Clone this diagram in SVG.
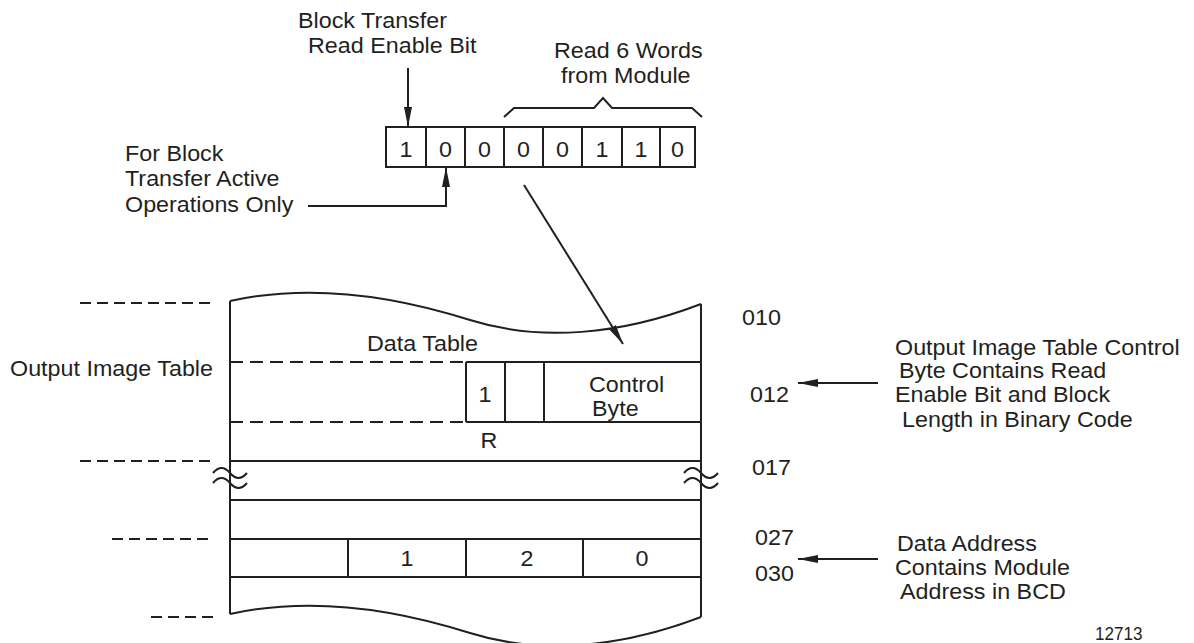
<svg xmlns="http://www.w3.org/2000/svg" width="1194" height="643" viewBox="0 0 1194 643">
<style>
.t{font-family:"Liberation Sans",Arial,sans-serif;font-size:22px;fill:#231f20}
.m{text-anchor:middle}
.s{fill:none;stroke:#231f20;stroke-width:2}
.d1{stroke-dasharray:11 6}
.d2{stroke-dasharray:13 7}
.ah{fill:#231f20;stroke:none}
</style>
<defs>
<marker id="arr" viewBox="0 0 20 10" refX="20" refY="5" markerWidth="20" markerHeight="10" markerUnits="userSpaceOnUse" orient="auto">
<path d="M0,1 L20,5 L0,9 Z" class="ah"/>
</marker>
<path id="tl" d="M-17,0 q8.5,-10 17,0 t17,0" />
</defs>
<rect width="1194" height="643" fill="#fff"/>

<g id="bit-register">
<rect x="386" y="127" width="309" height="40" class="s"/>
<path class="s" d="M426,127V167M465,127V167M504,127V167M543,127V167M582,127V167M622,127V167M660,127V167"/>
<text class="t m" transform="translate(406 157) scale(1.06 1)">1</text>
<text class="t m" transform="translate(445.5 157) scale(1.06 1)">0</text>
<text class="t m" transform="translate(484.5 157) scale(1.06 1)">0</text>
<text class="t m" transform="translate(523.5 157) scale(1.06 1)">0</text>
<text class="t m" transform="translate(562.5 157) scale(1.06 1)">0</text>
<text class="t m" transform="translate(602 157) scale(1.06 1)">1</text>
<text class="t m" transform="translate(641 157) scale(1.06 1)">1</text>
<text class="t m" transform="translate(677.5 157) scale(1.06 1)">0</text>
</g>

<g id="brace">
<path class="s" d="M504,117 L514,108 L594,108 L603,98 L612,108 L692,108 L702,117"/>
<text class="t" transform="translate(554 58) scale(1.06 1)">Read 6 Words</text>
<text class="t" transform="translate(561 83) scale(1.06 1)">from Module</text>
</g>

<g id="enable-label">
<text class="t" transform="translate(298 28) scale(1.06 1)">Block Transfer</text>
<text class="t" transform="translate(308 53) scale(1.06 1)">Read Enable Bit</text>
</g>

<g id="active-label">
<text class="t" transform="translate(125 161) scale(1.06 1)">For Block</text>
<text class="t" transform="translate(125 186) scale(1.06 1)">Transfer Active</text>
<text class="t" transform="translate(125 212) scale(1.06 1)">Operations Only</text>
</g>

<g id="data-table">
<path class="s" d="M230,301 C280,290 360,285 470,320 C540,342 620,335 701,304"/>
<path class="s" d="M230,614 C280,603 360,598 470,633 C540,655 620,648 701,617"/>
<path class="s" d="M230,301V614M701,304V617"/>
<path class="s d2" d="M230,362H463M230,422H463"/>
<path class="s" d="M466,362H701M466,422H701M230,461H701M230,500H701M230,539H701M230,577H701"/>
<path class="s" d="M466,362V422M505,362V422M544,362V422M348,539V577M466,539V577M583,539V577"/>
<g transform="translate(230 473)"><use href="#tl" class="s"/><use href="#tl" class="s" y="10"/></g>
<g transform="translate(701 473)"><use href="#tl" class="s"/><use href="#tl" class="s" y="10"/></g>
<text class="t" transform="translate(367 351) scale(1.06 1)">Data Table</text>
<text class="t m" transform="translate(485 402) scale(1.06 1)">1</text>
<text class="t" transform="translate(589 392) scale(1.06 1)">Control</text>
<text class="t" transform="translate(592 416) scale(1.06 1)">Byte</text>
<text class="t m" transform="translate(489 448) scale(1.06 1)">R</text>
<text class="t m" transform="translate(407 566) scale(1.06 1)">1</text>
<text class="t m" transform="translate(527 566) scale(1.06 1)">2</text>
<text class="t m" transform="translate(642 566) scale(1.06 1)">0</text>
</g>

<g id="left-labels">
<path class="s d1" d="M80,303H212M80,461H212M112,539H212M151,617H213"/>
<text class="t" transform="translate(10 376) scale(1.06 1)">Output Image Table</text>
</g>

<g id="addresses">
<text class="t" transform="translate(742 325) scale(1.06 1)">010</text>
<text class="t" transform="translate(750 402) scale(1.06 1)">012</text>
<text class="t" transform="translate(752 475) scale(1.06 1)">017</text>
<text class="t" transform="translate(755 545) scale(1.06 1)">027</text>
<text class="t" transform="translate(755 581) scale(1.06 1)">030</text>
</g>

<g id="control-note">
<text class="t" transform="translate(895 355) scale(1.06 1)">Output Image Table Control</text>
<text class="t" transform="translate(899 378) scale(1.06 1)">Byte Contains Read</text>
<text class="t" transform="translate(895 402) scale(1.06 1)">Enable Bit and Block</text>
<text class="t" transform="translate(902 427) scale(1.06 1)">Length in Binary Code</text>
</g>

<g id="address-note">
<text class="t" transform="translate(897 551) scale(1.06 1)">Data Address</text>
<text class="t" transform="translate(895 575) scale(1.06 1)">Contains Module</text>
<text class="t" transform="translate(900 599) scale(1.06 1)">Address in BCD</text>
</g>

<g id="figure-number">
<text class="t" style="font-size:19px" transform="translate(1095 640) scale(0.9 1)">12713</text>
</g>

<g id="connectors">
<path class="s" d="M408,68V127" marker-end="url(#arr)"/>
<path class="s" d="M308,206H446V167" marker-end="url(#arr)"/>
<path class="s" d="M524,185L623,344" marker-end="url(#arr)"/>
<path class="s" d="M878,383H798" marker-end="url(#arr)"/>
<path class="s" d="M878,559H798" marker-end="url(#arr)"/>
</g>
</svg>
